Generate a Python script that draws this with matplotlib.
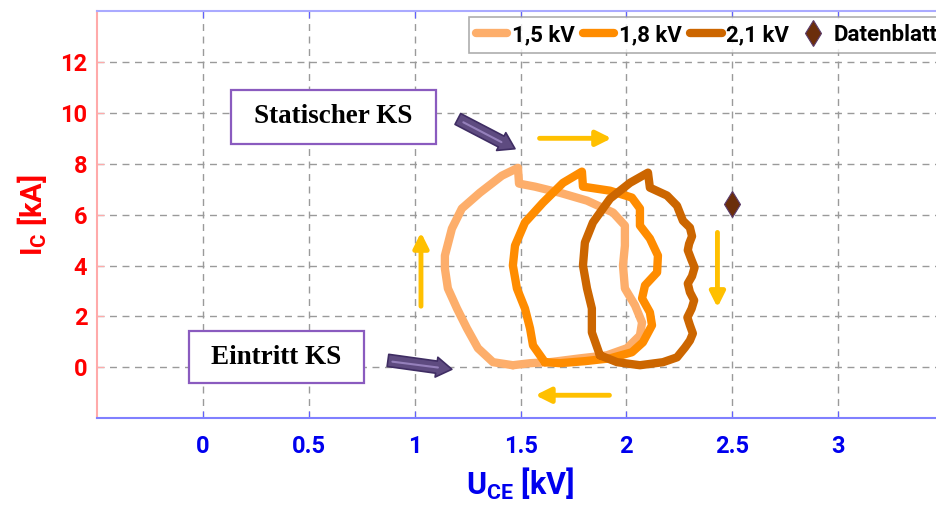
import matplotlib
matplotlib.use("Agg")
import matplotlib.pyplot as plt
from matplotlib.patches import Rectangle

plt.rcParams["font.family"] = ["Roboto", "DejaVu Sans"]
plt.rcParams["font.weight"] = "bold"
plt.rcParams["axes.labelweight"] = "bold"
plt.rcParams["mathtext.fontset"] = "custom"
plt.rcParams["mathtext.rm"] = "Roboto:bold"
plt.rcParams["mathtext.it"] = "Roboto:bold"
plt.rcParams["mathtext.bf"] = "Roboto:bold"

# short-circuit trajectories, U_CE [kV] / I_C [kA], clockwise from entry point
u_15 = [1.464, 1.370, 1.299, 1.247, 1.200, 1.157, 1.143, 1.143, 1.176, 1.223,
        1.308, 1.412, 1.488, 1.493, 1.568, 1.686, 1.814, 1.937, 1.993, 1.993,
        1.984, 1.993, 2.041, 2.074, 2.064, 2.003, 1.908, 1.781, 1.639, 1.545, 1.464]
i_15 = [0.08, 0.20, 0.75, 1.53, 2.31, 3.10, 3.88, 4.39, 5.45, 6.24,
        6.86, 7.53, 7.84, 7.22, 7.10, 6.86, 6.55, 6.08, 5.57, 4.78,
        4.00, 3.10, 2.43, 1.76, 1.25, 0.75, 0.47, 0.35, 0.20, 0.16, 0.08]

u_18 = [1.615, 1.559, 1.545, 1.521, 1.483, 1.464, 1.474, 1.521, 1.606, 1.701,
        1.790, 1.795, 1.923, 2.026, 2.064, 2.064, 2.111, 2.149, 2.145, 2.088,
        2.074, 2.111, 2.121, 2.078, 2.026, 1.923, 1.804, 1.686, 1.615]
i_18 = [0.20, 0.86, 1.53, 2.31, 3.10, 4.00, 4.78, 5.69, 6.47, 7.25,
        7.69, 7.10, 6.94, 6.67, 6.24, 5.57, 5.06, 4.39, 3.73, 3.22,
        2.71, 2.16, 1.65, 0.98, 0.59, 0.35, 0.24, 0.16, 0.20]

u_21 = [1.875, 1.837, 1.837, 1.814, 1.795, 1.804, 1.842, 1.923, 2.017, 2.102,
        2.111, 2.192, 2.239, 2.267, 2.300, 2.310, 2.296, 2.290, 2.306, 2.322,
        2.310, 2.290, 2.300, 2.320, 2.308, 2.288, 2.300, 2.314, 2.300, 2.277,
        2.239, 2.173, 2.064, 1.956, 1.875]
i_21 = [0.47, 1.37, 2.31, 3.10, 4.00, 4.90, 5.69, 6.63, 7.25, 7.65,
        7.06, 6.75, 6.35, 5.76, 5.49, 5.15, 4.85, 4.60, 4.25, 3.92,
        3.58, 3.29, 2.95, 2.63, 2.30, 1.96, 1.65, 1.33, 1.05, 0.78,
        0.39, 0.20, 0.08, 0.20, 0.47]

# datasheet value
u_db = [2.5]
i_db = [6.4]

x_ticks = [0, 0.5, 1, 1.5, 2, 2.5, 3]
x_labels = ["0", "0.5", "1", "1.5", "2", "2.5", "3"]
y_ticks = [0, 2, 4, 6, 8, 10, 12]

fig = plt.figure(figsize=(9.37, 5.05), dpi=100)
ax = fig.add_axes([0.1035, 0.172, 0.904, 0.806])
ax.set_xlim(-0.5, 3.5)
ax.set_ylim(-2, 14)

ax.grid(True, color="#9a9a9a", linestyle=(0, (5, 4)), linewidth=1)
ax.set_axisbelow(True)

ax.spines["right"].set_visible(False)
ax.spines["left"].set_color("#ffaaaa")
ax.spines["top"].set_color("#aaaaff")
ax.spines["bottom"].set_color("#8080ff")
for s in ["left", "top", "bottom"]:
    ax.spines[s].set_linewidth(1.5)

ax.set_xticks(x_ticks)
ax.set_xticklabels(x_labels)
ax.set_yticks(y_ticks)
ax.tick_params(axis="x", colors="#0000ee", labelsize=17, direction="in",
               length=5, top=True, pad=12)
ax.tick_params(axis="y", colors="#ff0000", labelsize=17, direction="in",
               length=5, pad=7)
ax.tick_params(axis="x", color="#6060ff")
ax.tick_params(axis="y", color="#ffaaaa")

ax.set_xlabel("U$_\\mathrm{CE}$ [kV]", color="#0000ee", fontsize=22,
              fontweight="bold", labelpad=6)
ax.set_ylabel("I$_\\mathrm{C}$ [kA]", color="#ff0000", fontsize=21,
              fontweight="bold", labelpad=8)

kw = dict(linewidth=6, solid_joinstyle="round", solid_capstyle="round")
ax.plot(u_15, i_15, color="#fdae6b", label="1,5 kV", **kw)
ax.plot(u_18, i_18, color="#ff8c00", label="1,8 kV", **kw)
ax.plot(u_21, i_21, color="#cc6600", label="2,1 kV", **kw)
ax.plot(u_db, i_db, linestyle="none", marker="d", markersize=13,
        color="#6b2e0b", markeredgecolor="#5a3a6a", markeredgewidth=0.8,
        label="Datenblatt")

# direction arrows
yel = dict(arrowstyle="-|>,head_length=0.9,head_width=0.45", color="#ffc000",
           lw=3.5, shrinkA=0, shrinkB=0)
ax.annotate("", xy=(1.93, 9.0), xytext=(1.59, 9.0), arrowprops=yel)
ax.annotate("", xy=(2.43, 2.35), xytext=(2.43, 5.3), arrowprops=yel)
ax.annotate("", xy=(1.57, -1.1), xytext=(1.92, -1.1), arrowprops=yel)
ax.annotate("", xy=(1.03, 5.3), xytext=(1.03, 2.4), arrowprops=yel)

# callout arrows
pur = dict(arrowstyle="simple,head_length=0.7,head_width=0.9,tail_width=0.55",
           facecolor="#5e4b80", edgecolor="#3f2d63", lw=1.2,
           shrinkA=0, shrinkB=0, mutation_scale=16)
inner = dict(arrowstyle="-", color="#9580bb", lw=1.5, shrinkA=0, shrinkB=0)
ax.annotate("", xy=(1.474, 8.59), xytext=(1.204, 9.76), arrowprops=pur)
ax.annotate("", xy=(1.41, 8.85), xytext=(1.23, 9.63), arrowprops=inner)
ax.annotate("", xy=(1.176, -0.08), xytext=(0.874, 0.27), arrowprops=pur)
ax.annotate("", xy=(1.11, -0.01), xytext=(0.895, 0.22), arrowprops=inner)

# text boxes
box_kw = dict(facecolor="white", edgecolor="#8a5bbf", linewidth=1.6, zorder=4)
ax.add_patch(Rectangle((0.132, 8.78), 0.969, 2.12, **box_kw))
ax.text(0.616, 9.86, "Statischer KS", ha="center", va="center", fontsize=19.5,
        family="Liberation Serif", weight="bold", zorder=5)
ax.add_patch(Rectangle((-0.066, -0.63), 0.827, 2.04, **box_kw))
ax.text(0.347, 0.40, "Eintritt KS", ha="center", va="center", fontsize=19.5,
        family="Liberation Serif", weight="bold", zorder=5)

leg = ax.legend(loc="upper right", bbox_to_anchor=(1.0, 0.985), ncol=4,
                fontsize=16, frameon=True, fancybox=False, handlelength=1.4,
                handletextpad=0.2, columnspacing=0.4, borderpad=0.3,
                borderaxespad=0)
leg.get_frame().set_edgecolor("#999999")
leg.get_frame().set_linewidth(1.2)
for h in leg.get_lines()[:3]:
    h.set_linewidth(6)

fig.savefig("out.png", dpi=100)
